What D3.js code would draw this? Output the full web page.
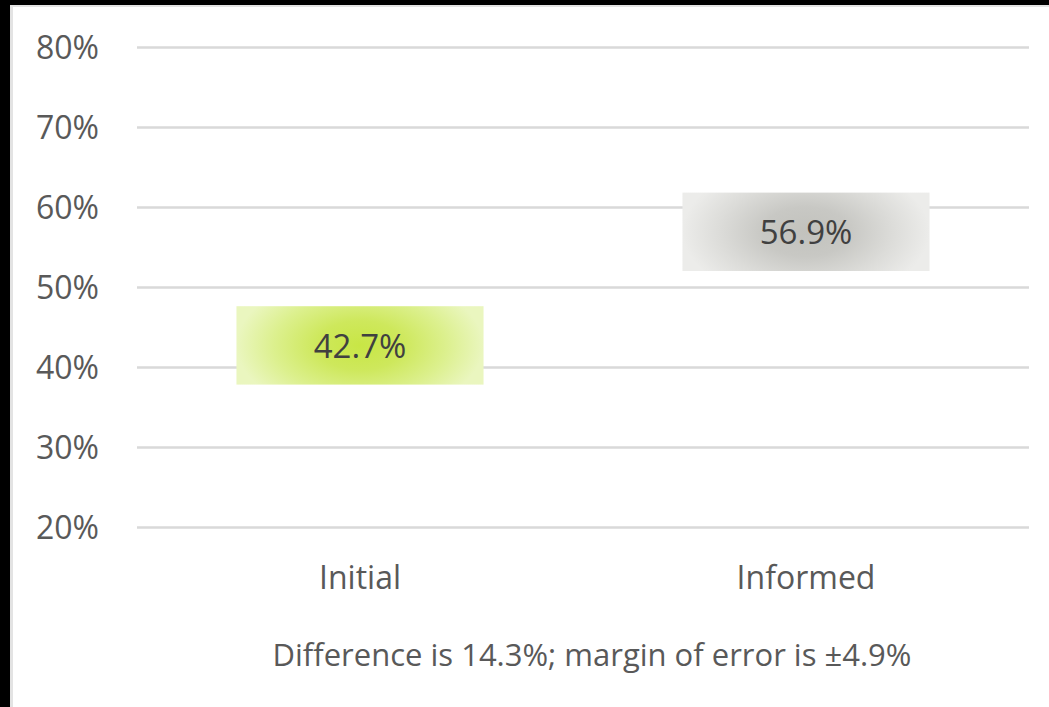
<!DOCTYPE html>
<html>
<head>
<meta charset="utf-8">
<script src="https://cdn.jsdelivr.net/npm/d3@7"></script>
<style>
  html, body { margin: 0; padding: 0; background: #fff; }
  svg { display: block; }
  text { font-family: "Open Sans", "Noto Sans", sans-serif; }
</style>
</head>
<body>
<svg id="chart" width="1049" height="707"></svg>
<script>
// ---- data ----
const categories = ["Initial", "Informed"];
const values = [0.427, 0.569];
const marginOfError = [0.049, 0.049];
const tickValues = [0.2, 0.3, 0.4, 0.5, 0.6, 0.7, 0.8];
const footnote = "Difference is 14.3%; margin of error is ±4.9%";

const svg = d3.select("#chart");
const W = 1049, H = 707;

// background + frame edges
svg.append("rect").attr("x", 0).attr("y", 0).attr("width", W).attr("height", H).attr("fill", "#fff");
svg.append("rect").attr("x", 0).attr("y", 0).attr("width", W).attr("height", 5).attr("fill", "#000");
svg.append("rect").attr("x", 0).attr("y", 5).attr("width", W).attr("height", 2).attr("fill", "#e3e3e3");
svg.append("rect").attr("x", 0).attr("y", 0).attr("width", 10).attr("height", H).attr("fill", "#000");
svg.append("rect").attr("x", 10).attr("y", 5).attr("width", 3).attr("height", H - 5).attr("fill", "#e3e3e3");

const x = d3.scaleBand().domain(categories).range([137, 1029]).paddingInner(0.446).paddingOuter(0.223);
const y = d3.scaleLinear().domain([0.2, 0.8]).range([527, 47]);

// gradients
const defs = svg.append("defs");
const gradStops = [
  [["0%", "#c8e645"], ["35%", "#cee85c"], ["70%", "#dcf08e"], ["100%", "#eaf6bf"]],
  [["0%", "#c2c2bd"], ["35%", "#c8c8c4"], ["70%", "#dcdcd9"], ["100%", "#ececea"]]
];
gradStops.forEach((stops, i) => {
  const g = defs.append("radialGradient").attr("id", "g" + i)
    .attr("cx", 0.5).attr("cy", 0.5).attr("r", 0.5)
    .attr("gradientTransform", "translate(0.5,0.5) scale(1,1.8) translate(-0.5,-0.5)");
  stops.forEach(s => g.append("stop").attr("offset", s[0]).attr("stop-color", s[1]));
});

// gridlines via axis
const yAxis = d3.axisLeft(y).tickValues(tickValues).tickSize(-(1029 - 137)).tickFormat(d3.format(".0%"));
const gy = svg.append("g").attr("transform", "translate(137,0)").call(yAxis);
gy.select(".domain").remove();
gy.selectAll(".tick line").attr("stroke", "#d9d9d9").attr("stroke-width", 2.5);
gy.selectAll(".tick text").attr("x", -38).attr("dy", "0.36em")
  .attr("fill", "#595959").attr("font-size", "32px");

// boxes
categories.forEach((c, i) => {
  const top = y(values[i] + marginOfError[i]);
  const bot = y(values[i] - marginOfError[i]);
  svg.append("rect")
    .attr("x", x(c)).attr("y", top)
    .attr("width", x.bandwidth()).attr("height", bot - top)
    .attr("fill", "url(#g" + i + ")");
  svg.append("text")
    .attr("x", x(c) + x.bandwidth() / 2).attr("y", y(values[i]))
    .attr("dy", "0.38em")
    .attr("text-anchor", "middle")
    .attr("fill", "#404040").attr("font-size", "33px")
    .text(d3.format(".1%")(values[i]));
});

// x axis labels
const xAxis = d3.axisBottom(x).tickSize(0).tickPadding(0);
const gx = svg.append("g").attr("transform", "translate(0,589)").call(xAxis);
gx.select(".domain").remove();
gx.selectAll(".tick text").attr("y", 0).attr("dy", 0)
  .attr("fill", "#595959").attr("font-size", "32px");

// footnote
svg.append("text").attr("x", 592).attr("y", 666).attr("text-anchor", "middle")
  .attr("fill", "#595959").attr("font-size", "31px").text(footnote);
</script>
</body>
</html>
